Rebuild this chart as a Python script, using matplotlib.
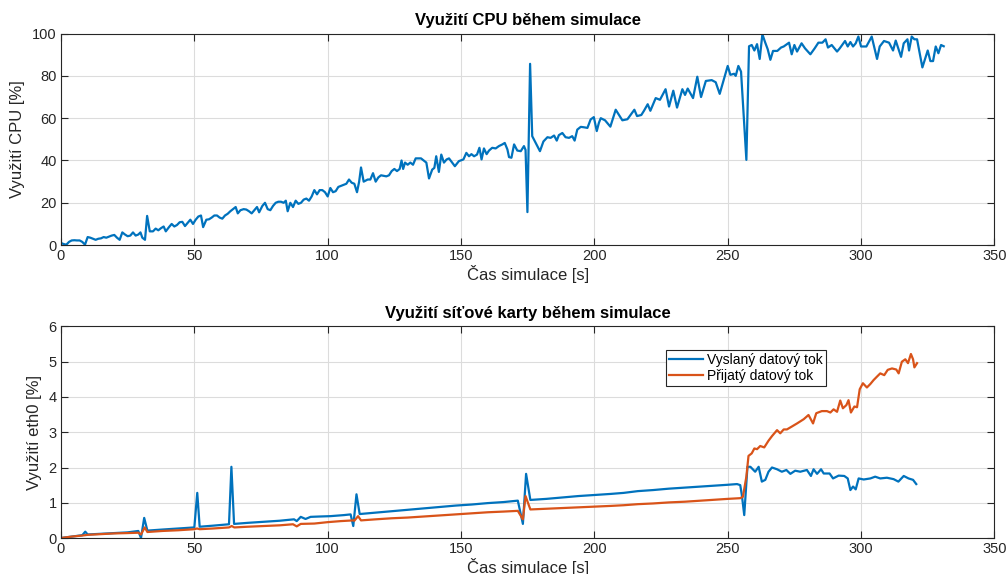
import numpy as np
import matplotlib
matplotlib.use('Agg')
import matplotlib.pyplot as plt

plt.rcParams['font.family'] = ['Liberation Sans', 'DejaVu Sans']

# CPU load over the run [%]
cpu_t = [0, 1, 2, 3, 4, 5, 6, 7, 8, 9, 10, 11, 12, 13, 14, 15, 16, 17, 18, 19,
         20, 21, 22, 23, 24, 25, 26, 27, 28, 29, 29.8, 30.5, 31.5, 32.3, 33.3, 34.5, 35.5, 36.5, 37.5, 38.5,
         39.3, 40.5, 41.5, 42.5, 43.5, 44.5, 45.5, 46.5, 47.5, 48.5, 49.5, 50.5, 51.5, 52.5, 53.3, 54.5, 55.5, 56.5, 57.5, 58.5,
         59.5, 60.5, 61.5, 62.5, 63.5, 64.5, 65.5, 66.3, 67.3, 68.5, 69.5, 70.5, 71.5, 72.5, 73.5, 74.3, 75.5, 76.5, 77.5, 78.5,
         79.5, 80.5, 81.5, 82.5, 83.5, 84.3, 85, 86, 87, 88, 89, 90, 91, 92, 93, 94, 95, 96, 97, 98,
         99, 100, 101, 102, 103, 104, 105, 106, 107, 108, 109, 110, 111, 111.8, 112.5, 113.5, 115, 116, 117, 118,
         119, 120, 122, 123, 124, 125, 126, 127, 127.7, 128.3, 129, 130, 131, 132, 133, 134, 135, 136, 137, 138,
         139.2, 140, 140.7, 141.7, 142.6, 143.6, 144.6, 145.5, 147.7, 149.2, 150.9, 152, 153, 153.9, 154.9, 156, 156.9, 157.7, 158.6, 159.6,
         160.5, 161.7, 163, 164.2, 165.5, 166.4, 167.4, 168, 168.9, 169.9, 171.1, 172.4, 173.6, 174.2, 174.9, 175.9, 176.7, 178, 179.6, 180.9,
         182.4, 183.6, 184.9, 185.9, 186.7, 188, 189.2, 190.5, 191.7, 192.6, 193.6, 194.9, 196.1, 197.4, 198.6, 199.8, 200.9, 201.7, 202.4, 204,
         206, 208, 210.5, 212.4, 215, 216, 217.6, 218.6, 220, 221, 223, 224.6, 226.7, 228, 229.6, 231, 233, 234, 235, 237,
         238.6, 240, 241.8, 244, 245.5, 247, 248.4, 250, 251, 252.4, 253, 254, 255, 257, 258, 259, 260, 261, 262, 263,
         264, 265, 266, 267, 268.6, 270, 271, 273, 274, 275, 276, 277.7, 279, 281, 282.6, 284, 285.5, 286.7, 287.6, 289,
         291, 292, 294, 295, 296, 297, 298, 299, 300, 302, 304, 306, 307, 308.6, 310.5, 312, 313, 315, 316, 317.4,
         318, 319, 320, 321, 323, 325, 326, 327, 328, 329, 330, 331]
cpu_v = [1, 0.5, 0.2, 1.5, 2.2, 2.3, 2.2, 2.2, 1.5, 0.2, 3.8, 3.5, 3, 2.5, 3, 3.2, 3.8, 3.5, 4, 4.5,
         4.8, 3.5, 2.5, 6, 5, 4.2, 4.5, 6, 4.5, 5, 6, 3.5, 2.5, 13.8, 6.5, 6.5, 7.8, 7, 8, 8.8,
         6.5, 8.5, 10, 8.8, 9.5, 10.8, 11, 9, 10.5, 12, 10, 12, 13.5, 14, 8.5, 12, 12.2, 13, 14, 14,
         13, 12.5, 14, 14.8, 16, 17, 18, 15, 16.5, 17, 16.8, 16, 15, 16.5, 18, 15.5, 18.5, 20, 17, 16.5,
         18.5, 20, 20.5, 20.5, 20, 21, 16, 20, 18, 21, 19.5, 20, 21.5, 22, 21, 23, 26, 24, 26, 26,
         25, 23, 27, 25, 25.5, 27.5, 28, 28.5, 29, 31, 29.5, 29, 25, 30, 36.7, 30, 31, 31, 34, 30,
         32, 33, 32.5, 33, 35, 36, 35, 36, 40, 36, 39, 38, 39, 38, 41, 41, 41, 40, 39, 31.5,
         35.7, 36.5, 42, 34.6, 42.8, 39, 40.5, 41, 37.3, 39.7, 40.5, 43.6, 42, 43, 42, 42.8, 46, 40.5, 45.7, 43,
         44.7, 46, 45.7, 46.8, 47.6, 48.3, 45.2, 41.6, 41.3, 47.6, 44.7, 44.4, 46.8, 45, 15.6, 85.7, 51.5, 48.3, 44.4, 49,
         51, 50.7, 51.8, 49.4, 52, 53, 51, 50.7, 51.5, 49.4, 54.6, 55.9, 55.7, 55.4, 59.4, 60.5, 53.9, 57.8, 60, 59,
         56, 64, 59, 59.5, 64, 61, 61.5, 63.5, 66.6, 63.5, 69.5, 68.7, 73.7, 65.5, 73, 65, 73.7, 71, 74, 69.5,
         79.6, 70, 77.6, 78, 77, 71.5, 77.6, 84.7, 80.5, 81, 80, 84.7, 82, 40.3, 94, 94.6, 92, 95, 88, 99.7,
         96, 92.6, 87.6, 91.8, 91.8, 93.4, 93.9, 95.7, 90.2, 94.6, 91.5, 95.4, 93, 90.2, 93, 95.7, 95.7, 97.3, 93.4, 94.6,
         91.5, 93, 96.5, 93.9, 96, 93.9, 95.4, 98.6, 93.9, 93.9, 98.6, 88, 93.9, 96.5, 95.7, 92, 96.7, 89, 95.4, 97.3,
         92, 98.6, 97.3, 97.3, 84, 92, 87, 87, 93.9, 90.7, 94.6, 94]

# eth0 load: transmitted stream [%]
tx_t = [0, 4, 8, 9.1, 10, 15, 20, 25, 29, 30, 31.2, 32.4, 38, 44, 50, 51.1, 52, 57, 63, 63.9,
        64.9, 70, 76, 82, 86, 87.4, 88.4, 89.9, 91.7, 93.6, 97, 101, 106.1, 108.6, 109.6, 110.8, 112, 118, 124, 130,
        136, 142, 148, 154, 160, 166, 171.3, 173.2, 174.4, 176, 182, 188, 194, 200, 206, 211, 216.3, 222, 228, 234,
        240, 246, 250, 253.5, 254.7, 255.3, 256.2, 257.4, 258.5, 260.3, 261.6, 262.8, 264.1, 265.3, 266.6, 268.5, 270.3, 272, 273.5, 275.3,
        277.2, 279.7, 281.2, 282.2, 283.5, 285, 286, 288.2, 289.5, 291.6, 293.7, 295, 296, 297, 298, 299.1, 301, 303.5, 305.3, 307.2,
        309.7, 312.2, 314, 316, 317.8, 319.5, 320.7]
tx_v = [0, 0.04, 0.08, 0.18, 0.1, 0.12, 0.14, 0.16, 0.2, 0.0, 0.57, 0.21, 0.24, 0.27, 0.3, 1.28, 0.32, 0.35, 0.39, 2.02,
        0.4, 0.43, 0.46, 0.49, 0.52, 0.53, 0.48, 0.6, 0.54, 0.6, 0.61, 0.62, 0.65, 0.67, 0.34, 1.24, 0.68, 0.72, 0.76, 0.8,
        0.84, 0.88, 0.92, 0.95, 0.99, 1.02, 1.06, 0.4, 1.82, 1.08, 1.11, 1.15, 1.19, 1.22, 1.25, 1.28, 1.33, 1.36, 1.4, 1.43,
        1.46, 1.49, 1.51, 1.53, 1.5, 1.22, 0.65, 2.02, 2.02, 1.88, 2.02, 1.6, 1.65, 1.88, 2.0, 1.95, 1.88, 1.93, 1.82, 1.91,
        1.88, 1.93, 1.76, 1.95, 1.82, 1.95, 1.83, 1.83, 1.69, 1.77, 1.76, 1.69, 1.36, 1.46, 1.38, 1.69, 1.66, 1.69, 1.74, 1.69,
        1.71, 1.67, 1.6, 1.76, 1.69, 1.65, 1.53]

# eth0 load: received stream [%]
rx_t = [0, 4, 8, 10, 15, 20, 25, 29, 30, 31.4, 32.4, 38, 44, 50, 51, 52, 57, 63, 64, 65,
        70, 76, 82, 87, 88.4, 89.9, 95, 100, 105, 109.6, 110, 111.4, 112.5, 118, 124, 130, 136, 142, 148, 154,
        160, 166, 171.3, 173.2, 174.2, 176, 182, 188, 194, 200, 206, 211, 216.3, 222, 228, 234, 240, 246, 250, 254.7,
        255.7, 257, 257.8, 259, 260, 261, 262.2, 263.7, 265.3, 266.6, 268.5, 269.7, 271, 272.2, 274, 276, 278.5, 280.3, 282, 283.2,
        285.3, 287.2, 288.5, 289.7, 291, 292.2, 293.2, 294.5, 295.3, 296.2, 297.5, 298.5, 299.5, 300.7, 302.2, 303.5, 304.7, 306, 307.2, 308.7,
        310, 311.6, 313.2, 314.1, 315.3, 316.6, 317.6, 318.7, 319.5, 320, 321]
rx_v = [0, 0.04, 0.07, 0.09, 0.11, 0.13, 0.14, 0.15, 0.1, 0.3, 0.17, 0.2, 0.22, 0.25, 0.27, 0.25, 0.27, 0.3, 0.34, 0.3,
        0.32, 0.34, 0.36, 0.39, 0.33, 0.4, 0.41, 0.45, 0.48, 0.5, 0.49, 0.62, 0.5, 0.53, 0.56, 0.58, 0.61, 0.64, 0.67, 0.7,
        0.73, 0.75, 0.77, 0.53, 1.19, 0.81, 0.83, 0.85, 0.87, 0.89, 0.91, 0.93, 0.96, 0.98, 1.01, 1.03, 1.06, 1.09, 1.11, 1.13,
        1.17, 1.74, 2.33, 2.4, 2.54, 2.52, 2.61, 2.57, 2.76, 2.89, 3.06, 2.97, 3.08, 3.08, 3.16, 3.25, 3.37, 3.49, 3.25, 3.54,
        3.6, 3.6, 3.56, 3.65, 3.58, 3.9, 3.68, 3.77, 3.91, 3.56, 3.73, 3.71, 4.22, 4.39, 4.27, 4.37, 4.48, 4.58, 4.67, 4.62,
        4.77, 4.81, 4.78, 4.67, 5.0, 5.07, 4.96, 5.22, 5.07, 4.84, 4.96]

blue = '#0072BD'
orange = '#D95319'
axis_col = '#262626'

fig = plt.figure(figsize=(10.08, 5.74), dpi=100)
ax1 = fig.add_axes([0.0605, 0.573, 0.926, 0.3685])
ax2 = fig.add_axes([0.0605, 0.0627, 0.926, 0.3685])


def style(ax):
    ax.set_xlim(0, 350)
    ax.set_xticks(np.arange(0, 351, 50))
    ax.grid(True, color='#dcdcdc', linewidth=0.8)
    ax.set_axisbelow(True)
    ax.tick_params(direction='in', top=True, right=True, length=5, width=0.8,
                   colors=axis_col, labelsize=10.5, pad=3)
    for s in ax.spines.values():
        s.set_color(axis_col)
        s.set_linewidth(0.8)


ax1.plot(cpu_t, cpu_v, color=blue, linewidth=1.6)
style(ax1)
ax1.set_ylim(0, 100)
ax1.set_yticks(np.arange(0, 101, 20))
ax1.set_title('Využití CPU během simulace', fontsize=12, fontweight='bold', pad=6)
ax1.set_xlabel('Čas simulace [s]', fontsize=12, color=axis_col, labelpad=1)
ax1.set_ylabel('Využití CPU [%]', fontsize=12, color=axis_col, labelpad=5)

ax2.plot(tx_t, tx_v, color=blue, linewidth=1.6, label='Vyslaný datový tok')
ax2.plot(rx_t, rx_v, color=orange, linewidth=1.6, label='Přijatý datový tok')
style(ax2)
ax2.set_ylim(0, 6)
ax2.set_yticks(np.arange(0, 7, 1))
ax2.set_title('Využití síťové karty během simulace', fontsize=12, fontweight='bold', pad=6)
ax2.set_xlabel('Čas simulace [s]', fontsize=12, color=axis_col, labelpad=1)
ax2.set_ylabel('Využití eth0 [%]', fontsize=12, color=axis_col, labelpad=5)

leg = ax2.legend(loc='upper left', bbox_to_anchor=(0.648, 0.89), fontsize=10,
                 fancybox=False, framealpha=1, edgecolor=axis_col,
                 handlelength=2.4, handletextpad=0.3, borderpad=0.25,
                 labelspacing=0.1, borderaxespad=0)
leg.get_frame().set_linewidth(0.8)

fig.savefig('out.png', dpi=100)
